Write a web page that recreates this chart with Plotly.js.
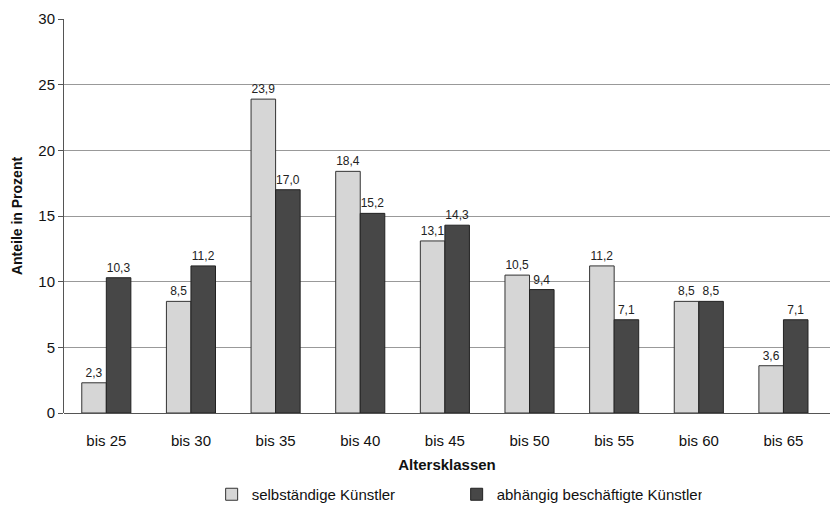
<!DOCTYPE html>
<html><head><meta charset="utf-8">
<script src="https://cdn.plot.ly/plotly-3.0.1.min.js"></script>
<style>body{margin:0;background:#fff}#c{width:830px;height:511px}</style>
</head><body><div id="c"></div>
<script>
var categories = ["bis 25","bis 30","bis 35","bis 40","bis 45","bis 50","bis 55","bis 60","bis 65"];
var selbstaendig = [2.3, 8.5, 23.9, 18.4, 13.1, 10.5, 11.2, 8.5, 3.6];
var abhaengig = [10.3, 11.2, 17.0, 15.2, 14.3, 9.4, 7.1, 8.5, 7.1];
var yTicks = [0,5,10,15,20,25,30];
function fmt(v){return v.toFixed(1).replace('.',',');}
var font = "Liberation Sans, Arial, sans-serif";
var traces = [
 {type:'bar', name:'selbständige Künstler', x:categories, y:selbstaendig,
  text:selbstaendig.map(fmt), textposition:'outside', cliponaxis:false,
  textfont:{size:12,color:'#222',family:font},
  marker:{color:'#d6d6d6', line:{color:'#333',width:1}}},
 {type:'bar', name:'abhängig beschäftigte Künstler', x:categories, y:abhaengig,
  text:abhaengig.map(fmt), textposition:'outside', cliponaxis:false,
  textfont:{size:12,color:'#222',family:font},
  marker:{color:'#474747', line:{color:'#222',width:1}}}
];
var layout = {
 width:830, height:511, margin:{l:64,r:0,t:19,b:98, autoexpand:false},
 paper_bgcolor:'#fff', plot_bgcolor:'#fff',
 font:{family:font, color:'#111'},
 barmode:'group', bargap:0.42, bargroupgap:0,
 showlegend:true,
 legend:{orientation:'h', xref:'container', yref:'container', x:0.255, xanchor:'left', y:0.0, yanchor:'bottom',
   font:{size:15,family:font}, itemwidth:30, entrywidth:200, traceorder:'normal'},
 xaxis:{range:[-0.5,8.55], tickfont:{size:15}, showline:false, ticks:'outside', ticklen:14, tickcolor:'rgba(0,0,0,0)', showgrid:false,
   title:{text:'<b>Altersklassen</b>', font:{size:15}, standoff:11}},
 yaxis:{range:[0,30], tickvals:yTicks, ticktext:yTicks.map(String), tickfont:{size:15},
   showline:true, linecolor:'#555', linewidth:1, ticks:'outside', ticklen:5, tickcolor:'#555',
   showgrid:true, gridcolor:'#999', gridwidth:1, zeroline:true, zerolinecolor:'#555',
   title:{text:'<b>Anteile in Prozent</b>', font:{size:14}, standoff:12}}
};
Plotly.newPlot('c', traces, layout, {displayModeBar:false, staticPlot:true});
</script></body></html>
